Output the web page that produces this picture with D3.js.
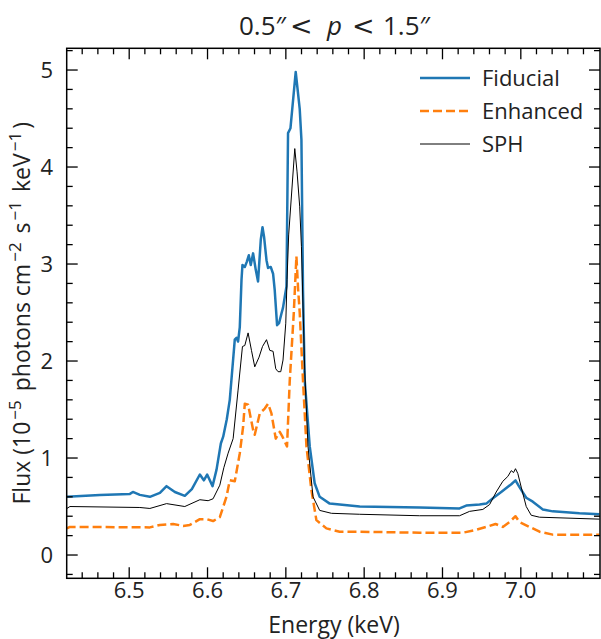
<!DOCTYPE html>
<html><head><meta charset="utf-8">
<script src="https://cdn.jsdelivr.net/npm/d3@7"></script>
<style>body{margin:0;background:#fff}svg{display:block}text{font-family:"Open Sans",sans-serif;fill:#222}</style>
</head><body><svg id="c" width="601" height="639"></svg>
<script>
const seriesNames = ["Fiducial", "Enhanced", "SPH"];
const seriesColors = ["#1f77b4", "#ff7f0e", "#000000"];
const xTicks = [6.5, 6.6, 6.7, 6.8, 6.9, 7.0];
const xTickLabels = ["6.5", "6.6", "6.7", "6.8", "6.9", "7.0"];
const yTicks = [0, 1, 2, 3, 4, 5];
const yTickLabels = ["0", "1", "2", "3", "4", "5"];

const fidE = [6.4205,6.4626,6.5009,6.5047,6.5136,6.5264,6.5392,6.5477,6.5583,6.5710,6.5800,6.5902,6.5953,6.5995,6.6064,6.6115,6.6170,6.6200,6.6246,6.6284,6.6348,6.6370,6.6390,6.6412,6.6434,6.6446,6.6476,6.6500,6.6527,6.6552,6.6582,6.6616,6.6645,6.6680,6.6702,6.6722,6.6753,6.6773,6.6807,6.6837,6.6858,6.6888,6.6913,6.6944,6.6964,6.6986,6.7008,6.7028,6.7059,6.7126,6.7177,6.7199,6.7219,6.7241,6.7305,6.7368,6.7432,6.7560,6.7943,6.8708,6.9218,6.9303,6.9473,6.9559,6.9652,6.9750,6.9878,6.9932,6.9983,7.0069,7.0153,7.0281,7.0408,7.0749,7.1004];
const fidF = [0.60,0.62,0.63,0.65,0.62,0.60,0.64,0.71,0.65,0.61,0.68,0.83,0.77,0.83,0.71,0.88,1.15,1.22,1.40,1.60,2.22,2.24,2.20,2.35,2.84,2.99,2.97,3.02,3.09,2.99,3.11,2.94,2.82,3.25,3.38,3.28,3.04,2.96,2.97,2.90,2.73,2.37,2.39,2.49,2.55,2.66,2.77,4.35,4.40,4.98,4.60,4.28,2.73,1.80,1.12,0.74,0.60,0.53,0.50,0.49,0.48,0.51,0.52,0.53,0.59,0.65,0.73,0.77,0.70,0.59,0.55,0.47,0.45,0.43,0.42];

const enhE = [6.4205,6.4243,6.5264,6.5392,6.5561,6.5689,6.5774,6.5902,6.5987,6.6071,6.6157,6.6242,6.6284,6.6348,6.6412,6.6454,6.6476,6.6518,6.6582,6.6603,6.6667,6.6731,6.6773,6.6816,6.6871,6.6922,6.6957,6.7015,6.7050,6.7101,6.7135,6.7156,6.7177,6.7219,6.7263,6.7326,6.7390,6.7518,6.7687,6.7943,6.8708,6.9260,6.9431,6.9601,6.9677,6.9770,6.9856,6.9932,6.9983,7.0111,7.0239,7.0408,7.1004];
const enhF = [0.275,0.29,0.285,0.31,0.32,0.30,0.31,0.37,0.37,0.35,0.39,0.60,0.77,0.76,1.05,1.32,1.56,1.55,1.29,1.24,1.46,1.51,1.56,1.46,1.20,1.27,1.22,1.12,1.80,2.49,3.08,2.75,2.50,1.80,1.12,0.67,0.36,0.275,0.24,0.24,0.23,0.23,0.26,0.30,0.32,0.29,0.34,0.40,0.34,0.29,0.24,0.21,0.21];

const sphE = [6.4205,6.4243,6.5136,6.5264,6.5477,6.5710,6.5902,6.6008,6.6071,6.6157,6.6208,6.6263,6.6327,6.6390,6.6446,6.6476,6.6518,6.6561,6.6603,6.6658,6.6702,6.6753,6.6795,6.6837,6.6871,6.6901,6.6935,6.6964,6.6999,6.7015,6.7036,6.7114,6.7143,6.7177,6.7199,6.7241,6.7283,6.7347,6.7432,6.7582,6.7943,6.8708,6.9218,6.9346,6.9515,6.9601,6.9686,6.9770,6.9834,6.9878,6.9907,6.9932,6.9962,7.0005,7.0069,7.0133,7.0239,7.1004];
const sphF = [0.48,0.50,0.49,0.48,0.53,0.50,0.57,0.56,0.58,0.72,0.90,1.05,1.20,1.70,2.15,2.16,2.29,2.11,1.94,2.04,2.15,2.22,2.11,2.10,1.92,1.89,1.89,2.01,2.39,2.84,3.30,4.19,3.95,3.59,3.18,1.90,1.12,0.60,0.46,0.43,0.42,0.405,0.405,0.45,0.47,0.52,0.65,0.76,0.81,0.87,0.85,0.89,0.84,0.70,0.50,0.41,0.39,0.37];

const L = 66.7, R = 600, T = 48.3, B = 578.3;
const FS = 22;
const svg = d3.select("#c");
const x = d3.scaleLinear().domain([6.4202, 7.1011]).range([L, R]);
const y = d3.scaleLinear().domain([-0.24, 5.224]).range([B, T]);

svg.append("defs").append("clipPath").attr("id","clip").append("rect")
  .attr("x", L).attr("y", T).attr("width", R - L).attr("height", B - T);

const series = [
  {E: fidE, F: fidF, w: 2.5, dash: null},
  {E: enhE, F: enhF, w: 2.5, dash: "9,4"},
  {E: sphE, F: sphF, w: 1, dash: null}
];
const line = d3.line().x(d => x(d[0])).y(d => y(d[1]));
const g = svg.append("g").attr("clip-path", "url(#clip)");
series.forEach((s, i) => {
  const pts = s.E.map((e, j) => [e, s.F[j]]);
  g.append("path").attr("d", line(pts)).attr("fill", "none")
    .attr("stroke", seriesColors[i]).attr("stroke-width", s.w)
    .attr("stroke-dasharray", s.dash).attr("stroke-linejoin", "round");
});

// ticks
const major = 11, minor = 6;
const xMinor = d3.range(6.44, 7.1, 0.02).filter(v => xTicks.every(t => Math.abs(t - v) > 1e-6));
const yMinor = d3.range(-0.2, 5.22, 0.2).filter(v => yTicks.every(t => Math.abs(t - v) > 1e-6));
const tg = svg.append("g").attr("stroke", "#000").attr("stroke-width", 1.3);
function xt(v, len){
  tg.append("line").attr("x1", x(v)).attr("x2", x(v)).attr("y1", B).attr("y2", B - len);
  tg.append("line").attr("x1", x(v)).attr("x2", x(v)).attr("y1", T).attr("y2", T + len);
}
function yt(v, len){
  tg.append("line").attr("y1", y(v)).attr("y2", y(v)).attr("x1", L).attr("x2", L + len);
  tg.append("line").attr("y1", y(v)).attr("y2", y(v)).attr("x1", R).attr("x2", R - len);
}
xTicks.forEach(v => xt(v, major));
xMinor.forEach(v => xt(v, minor));
yTicks.forEach(v => yt(v, major));
yMinor.forEach(v => yt(v, minor));

svg.append("rect").attr("x", L).attr("y", T).attr("width", R - L).attr("height", B - T)
  .attr("fill", "none").attr("stroke", "#000").attr("stroke-width", 1.5);

xTicks.forEach((v, i) => {
  svg.append("text").attr("x", x(v)).attr("y", 598).attr("text-anchor", "middle")
    .attr("font-size", FS).text(xTickLabels[i]);
});
yTicks.forEach((v, i) => {
  svg.append("text").attr("x", 53).attr("y", y(v) + 8).attr("text-anchor", "end")
    .attr("font-size", FS).text(yTickLabels[i]);
});

svg.append("text").attr("x", 334).attr("y", 633).attr("text-anchor", "middle")
  .attr("font-size", 23).text("Energy (keV)");

const yl = svg.append("text").attr("transform", `translate(30,${(T + B) / 2}) rotate(-90)`)
  .attr("text-anchor", "middle").attr("font-size", 23);
const parts = [["Flux (10",0],["−5",1],[" photons cm",0],["−2",1],[" s",0],["−1",1],[" keV",0],["−1",1],[")",0]];
parts.forEach((p, k) => {
  const t = yl.append("tspan").text(p[0]);
  if (p[1]) t.attr("font-size", 17).attr("dy", -9).attr("dx", 2);
  else if (k > 0) t.attr("dy", 9).attr("dx", 3);
});

// title
function titlePiece(xp, txt, style, fam, fs){
  svg.append("text").attr("x", xp).attr("y", 35).attr("font-size", fs)
    .attr("font-style", style).style("font-family", fam).text(txt);
}
titlePiece(239, "0.5″", "normal", "Open Sans", 26);
titlePiece(290, "<", "normal", "DejaVu Sans", 27);
titlePiece(327, "p", "italic", "Open Sans", 26);
titlePiece(352, "<", "normal", "DejaVu Sans", 27);
titlePiece(383, "1.5″", "normal", "Open Sans", 26);

// legend
const lg = svg.append("g");
seriesNames.forEach((n, i) => {
  const yy = 78 + i * 33;
  lg.append("line").attr("x1", 420).attr("x2", 470).attr("y1", yy).attr("y2", yy)
    .attr("stroke", seriesColors[i]).attr("stroke-width", series[i].w)
    .attr("stroke-dasharray", series[i].dash);
  lg.append("text").attr("x", 482).attr("y", yy + 8).attr("font-size", FS).text(n);
});
</script></body></html>
